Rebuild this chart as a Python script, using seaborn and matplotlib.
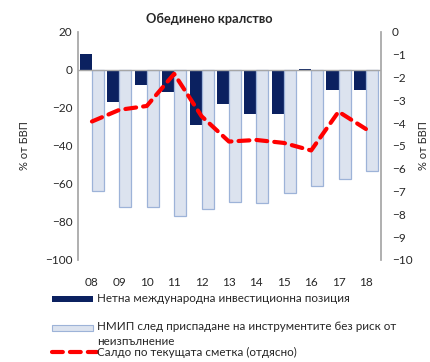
import matplotlib
matplotlib.use("Agg")
import matplotlib.pyplot as plt
import seaborn as sns
import pandas as pd
from matplotlib.patches import Rectangle
from matplotlib.lines import Line2D

years = ["08", "09", "10", "11", "12", "13", "14", "15", "16", "17", "18"]
niip = [8.3, -16.8, -8.0, -11.6, -29.0, -18.0, -23.0, -23.0, 0.5, -10.5, -10.5]
niip_adj = [-63.7, -72.0, -72.0, -76.8, -73.0, -69.5, -70.0, -65.0, -61.0, -57.4, -53.3]
current_account = [-3.93, -3.42, -3.25, -1.84, -3.7, -4.81, -4.74, -4.87, -5.2, -3.5, -4.26]

label_niip = "Нетна международна инвестиционна позиция"
label_adj = "НМИП след приспадане на инструментите без риск от\nнеизпълнение"
label_ca = "Салдо по текущата сметка (отдясно)"

sns.set_theme(style="white")
plt.rcParams["font.family"] = ["Lato", "DejaVu Sans"]

dark = "#0B2160"
light_fill = "#DCE3EF"
light_edge = "#9DB3D8"
red = "#FF0000"

bars = pd.DataFrame({
    "year": years * 2,
    "value": niip + niip_adj,
    "series": [label_niip] * len(years) + [label_adj] * len(years),
})
line_df = pd.DataFrame({"pos": range(len(years)), "ca": current_account})

fig = plt.figure(figsize=(4.31, 3.62), dpi=100)
ax = fig.add_axes([0.181, 0.282, 0.703, 0.630])

sns.barplot(data=bars, x="year", y="value", hue="series", order=years,
            palette=[dark, light_fill], width=0.88, gap=0, ax=ax,
            legend=False, saturation=1)
for p in ax.patches[len(years):2 * len(years)]:
    p.set_edgecolor(light_edge)
    p.set_linewidth(0.9)
for p in ax.patches[:len(years)]:
    p.set_edgecolor("none")

ax.set_ylim(-100, 20)
ax.set_xlim(-0.51, 10.55)
ax.set_yticks(range(-100, 21, 20))
ax.axhline(0, color="#A6A6A6", lw=1.0, zorder=3)
ax.set_xlabel("")
ax.set_ylabel("% от БВП", fontsize=8, labelpad=11)
for s in ["top", "right", "bottom"]:
    ax.spines[s].set_visible(False)
ax.spines["left"].set_color("#A6A6A6")
ax.tick_params(axis="both", labelsize=8.5, length=0, pad=4)
ax.tick_params(axis="x", pad=12)

ax2 = ax.twinx()
sns.lineplot(data=line_df, x="pos", y="ca", color=red, lw=3.0, ax=ax2,
             legend=False)
ax2.lines[0].set_dashes([2.6, 1.7])
ax2.lines[0].set_dash_capstyle("round")
ax2.set_ylim(-10, 0)
ax2.set_yticks(range(-10, 1))
ax2.set_xlim(-0.51, 10.55)
ax2.set_ylabel("% от БВП", fontsize=8, rotation=90, labelpad=4)
for s in ["top", "left", "bottom"]:
    ax2.spines[s].set_visible(False)
ax2.spines["right"].set_color("#A6A6A6")
ax2.tick_params(axis="y", labelsize=8.5, length=0, pad=8)

fig.text(0.485, 0.948, "Обединено кралство", ha="center", va="center",
         fontsize=9.2, fontweight="bold")

# legend entries below the plot
def fy(py):
    return 1 - py / 362

def fx(px):
    return px / 431

fig.patches.append(Rectangle((fx(52), fy(302)), fx(41), 6 / 362,
                             transform=fig.transFigure, facecolor=dark,
                             edgecolor="none"))
fig.text(fx(97), fy(298), label_niip, va="center", ha="left", fontsize=8.4)
fig.patches.append(Rectangle((fx(52), fy(331)), fx(41), 6 / 362,
                             transform=fig.transFigure, facecolor=light_fill,
                             edgecolor=light_edge, lw=0.8))
fig.text(fx(97), fy(321), label_adj, va="top", ha="left", fontsize=8.4,
         linespacing=1.4)
fig.lines.append(Line2D([fx(52), fx(97)], [fy(352), fy(352)],
                        transform=fig.transFigure, color=red, lw=3.0,
                        dashes=[2.6, 1.7], dash_capstyle="round"))
fig.text(fx(97), fy(352), label_ca, va="center", ha="left", fontsize=8.4)

fig.savefig("out.png", dpi=100)
